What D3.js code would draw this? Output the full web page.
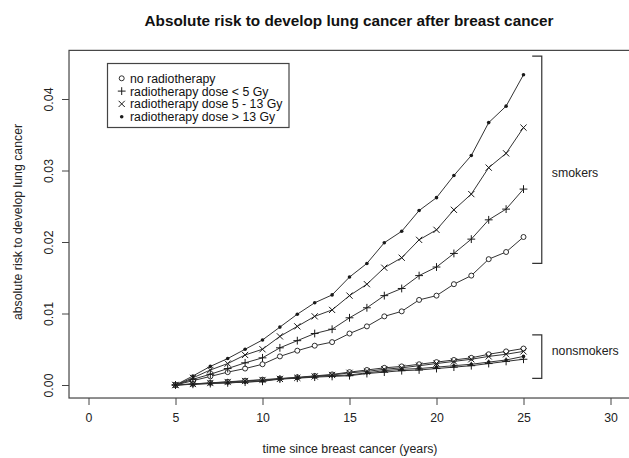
<!DOCTYPE html>
<html>
<head>
<meta charset="utf-8">
<script src="https://cdn.jsdelivr.net/npm/d3@7"></script>
<style>
  body { margin: 0; background: #fff; }
  svg { display: block; font-family: "Liberation Sans", Arial, sans-serif; }
</style>
</head>
<body>
<div id="chart"></div>
<script>
// years since breast cancer
const years = [5, 6, 7, 8, 9, 10, 11, 12, 13, 14, 15, 16, 17, 18, 19, 20, 21, 22, 23, 24, 25];

// smokers
const smokNoRadio = [0, 0.0006, 0.0012, 0.0018, 0.0023, 0.0029, 0.0040, 0.0048, 0.0055, 0.0060, 0.0072, 0.0082, 0.0096, 0.0103, 0.0119, 0.0125, 0.0141, 0.0153, 0.0176, 0.0186, 0.0207];
const smokLow = [0, 0.0008, 0.0015, 0.0023, 0.0031, 0.0038, 0.0052, 0.0062, 0.0072, 0.0078, 0.0094, 0.0108, 0.0125, 0.0135, 0.0153, 0.0165, 0.0184, 0.0204, 0.0231, 0.0246, 0.0274];
const smokMid = [0, 0.0010, 0.0021, 0.0030, 0.0042, 0.0050, 0.0068, 0.0082, 0.0096, 0.0105, 0.0125, 0.0141, 0.0164, 0.0178, 0.0203, 0.0217, 0.0245, 0.0267, 0.0304, 0.0324, 0.0360];
const smokHigh = [0, 0.00126, 0.0026, 0.0037, 0.0050, 0.0063, 0.0081, 0.0099, 0.0115, 0.0126, 0.0151, 0.0170, 0.0199, 0.0215, 0.0244, 0.0262, 0.0293, 0.0321, 0.0367, 0.0390, 0.0434];

// nonsmokers
const nonNoRadio = [0, 0.00015, 0.0003, 0.00045, 0.0006, 0.00075, 0.0009, 0.00108, 0.00127, 0.00148, 0.0018, 0.0021, 0.0024, 0.0026, 0.0029, 0.0032, 0.0035, 0.0038, 0.0043, 0.0047, 0.0051];
const nonLow = [0, 0.0001, 0.0002, 0.0003, 0.0004, 0.00052, 0.00082, 0.00095, 0.0011, 0.0012, 0.0013, 0.0016, 0.0018, 0.0020, 0.0021, 0.0023, 0.0025, 0.0027, 0.0030, 0.0033, 0.0036];
const nonMid = [0, 0.00014, 0.00028, 0.00042, 0.00056, 0.0007, 0.00085, 0.0010, 0.0012, 0.0014, 0.0017, 0.0019, 0.0022, 0.0024, 0.0027, 0.0030, 0.0033, 0.0036, 0.0040, 0.0043, 0.0047];
const nonHigh = [0, 0.0001, 0.00023, 0.0003, 0.0004, 0.00056, 0.00089, 0.0010, 0.0012, 0.0013, 0.0014, 0.0017, 0.0020, 0.0022, 0.0023, 0.0025, 0.0027, 0.0029, 0.0032, 0.0035, 0.0040];

const xTicks = [0, 5, 10, 15, 20, 25, 30];
const yTicks = [0, 0.01, 0.02, 0.03, 0.04];
const yTickLabels = ["0.00", "0.01", "0.02", "0.03", "0.04"];

const legendLabels = ["no radiotherapy", "radiotherapy dose < 5 Gy", "radiotherapy dose 5 - 13 Gy", "radiotherapy dose > 13 Gy"];
const legendSymbols = ["circle", "plus", "cross", "dot"];

// brackets: [x0, x1, yTop, yBottom]
const brackets = [
  { label: "smokers", x0: 25.5, x1: 26.05, top: 0.0460, bottom: 0.0170, labelY: 0.0297 },
  { label: "nonsmokers", x0: 25.5, x1: 26.05, top: 0.0070, bottom: 0.00094, labelY: 0.0048 }
];

const series = [
  { values: smokNoRadio, sym: "circle" },
  { values: smokLow, sym: "plus" },
  { values: smokMid, sym: "cross" },
  { values: smokHigh, sym: "dot" },
  { values: nonNoRadio, sym: "circle" },
  { values: nonLow, sym: "plus" },
  { values: nonMid, sym: "cross" },
  { values: nonHigh, sym: "dot" }
];

const W = 629, H = 458;
const svg = d3.select("#chart").append("svg").attr("width", W).attr("height", H);

const x = d3.scaleLinear().domain([0, 30]).range([88.5, 610.5]);
const y = d3.scaleLinear().domain([0, 0.04]).range([385, 99]);

const ink = "#1a1a1a";

// title
svg.append("text")
  .attr("x", 349).attr("y", 26)
  .attr("text-anchor", "middle")
  .style("font-size", "15.3px")
  .style("font-weight", "bold")
  .style("fill", "#111")
  .text("Absolute risk to develop lung cancer after breast cancer");

// plot box
const bx0 = x(-1.12), bx1 = x(31.2), by0 = y(0.0468), by1 = y(-0.00182);
svg.append("rect")
  .attr("x", bx0).attr("y", by0)
  .attr("width", bx1 - bx0).attr("height", by1 - by0)
  .attr("fill", "none").attr("stroke", "#444").attr("stroke-width", 1.2);

// x axis
const xAxis = svg.append("g")
  .attr("transform", `translate(0,${by1})`)
  .call(d3.axisBottom(x).tickValues(xTicks).tickSize(7).tickPadding(8).tickFormat(d3.format("d")));
xAxis.select(".domain").remove();
xAxis.selectAll("line").attr("stroke", "#444");
xAxis.selectAll("text").style("font-size", "12.3px").style("fill", "#222")
  .style("font-family", "Liberation Sans, Arial, sans-serif");

// y axis
const yAxis = svg.append("g")
  .attr("transform", `translate(${bx0},0)`)
  .call(d3.axisLeft(y).tickValues(yTicks).tickSize(7).tickFormat((d, i) => yTickLabels[i]));
yAxis.select(".domain").remove();
yAxis.selectAll("line").attr("stroke", "#444");
yAxis.selectAll("text")
  .attr("x", null).attr("dy", null)
  .attr("text-anchor", "middle")
  .attr("transform", `translate(${48 - bx0},0) rotate(-90)`)
  .attr("y", 4.5)
  .style("font-size", "12.3px").style("fill", "#222")
  .style("font-family", "Liberation Sans, Arial, sans-serif");

// axis titles
svg.append("text")
  .attr("x", 350).attr("y", 453)
  .attr("text-anchor", "middle")
  .style("font-size", "12.3px").style("fill", "#222")
  .text("time since breast cancer (years)");

svg.append("text")
  .attr("transform", `translate(22,222) rotate(-90)`)
  .attr("text-anchor", "middle")
  .style("font-size", "12.3px").style("fill", "#222")
  .text("absolute risk to develop lung cancer");

// symbols
function drawSymbol(g, sym, cx, cy) {
  if (sym === "circle") {
    g.append("circle").attr("cx", cx).attr("cy", cy).attr("r", 2.5)
      .attr("fill", "#fff").attr("stroke", ink).attr("stroke-width", 0.9);
  } else if (sym === "plus") {
    const a = 3.9;
    g.append("path").attr("d", `M${cx - a},${cy}H${cx + a}M${cx},${cy - a}V${cy + a}`)
      .attr("stroke", ink).attr("stroke-width", 1);
  } else if (sym === "cross") {
    const b = 3.1;
    g.append("path").attr("d", `M${cx - b},${cy - b}L${cx + b},${cy + b}M${cx - b},${cy + b}L${cx + b},${cy - b}`)
      .attr("stroke", ink).attr("stroke-width", 1);
  } else {
    g.append("circle").attr("cx", cx).attr("cy", cy).attr("r", 1.8).attr("fill", ink);
  }
}

const line = d3.line().x((d, i) => x(years[i])).y(d => y(d));

series.forEach(s => {
  const g = svg.append("g");
  g.append("path").attr("d", line(s.values))
    .attr("fill", "none").attr("stroke", "#333").attr("stroke-width", 1);
  s.values.forEach((v, i) => drawSymbol(g, s.sym, x(years[i]), y(v)));
});

// brackets
brackets.forEach(b => {
  svg.append("path")
    .attr("d", `M${x(b.x0)},${y(b.top)}H${x(b.x1)}V${y(b.bottom)}H${x(b.x0)}`)
    .attr("fill", "none").attr("stroke", "#333").attr("stroke-width", 1.2);
  svg.append("text")
    .attr("x", x(b.x1) + 10).attr("y", y(b.labelY) + 4.5)
    .style("font-size", "12.3px").style("fill", "#222")
    .text(b.label);
});

// legend
const lg = svg.append("g");
lg.append("rect")
  .attr("x", 107.5).attr("y", 63.5).attr("width", 181.5).attr("height", 64)
  .attr("fill", "#fff").attr("stroke", "#444").attr("stroke-width", 1.2);
legendLabels.forEach((lab, i) => {
  const cy = 78.3 + i * 12.8;
  drawSymbol(lg, legendSymbols[i], 121.7, cy);
  lg.append("text").attr("x", 130).attr("y", cy + 4.4)
    .style("font-size", "12.3px").style("fill", "#111")
    .text(lab);
});
</script>
</body>
</html>
